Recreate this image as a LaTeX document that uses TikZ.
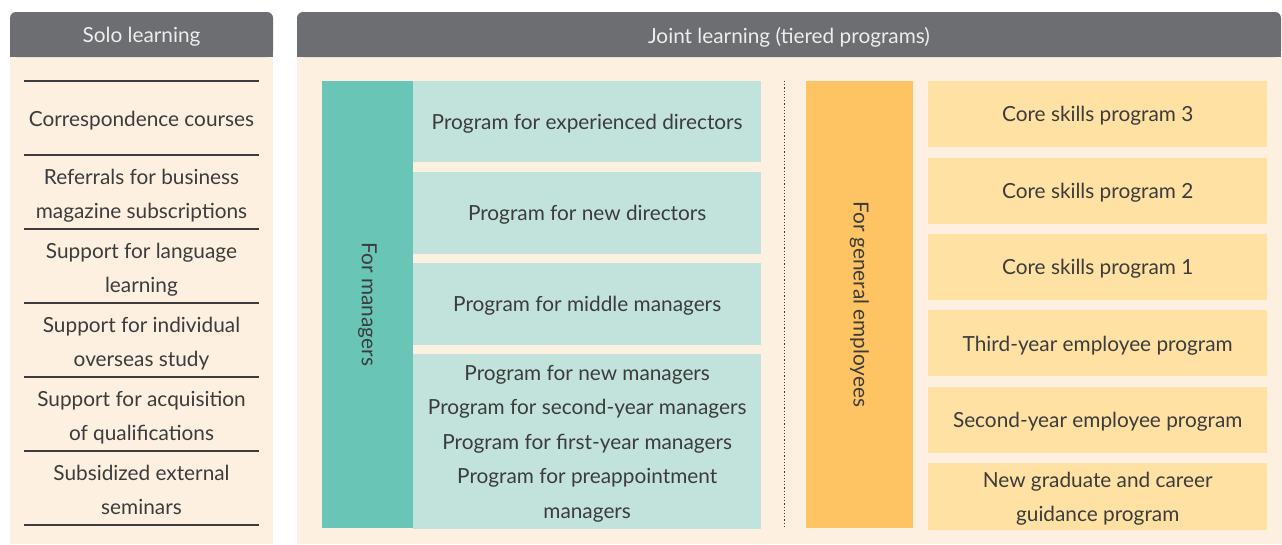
\documentclass[tikz,border=0pt]{standalone}
\usepackage{fontspec}
\setmainfont{Lato}
\usetikzlibrary{positioning}
\definecolor{beige}{HTML}{FDF0E1}
\definecolor{hdgray}{HTML}{6D6E71}
\definecolor{txtgray}{HTML}{3C3C3C}
\definecolor{mgrdark}{HTML}{69C5B5}
\definecolor{mgrlight}{HTML}{C1E3DC}
\definecolor{empdark}{HTML}{FEC463}
\definecolor{emplight}{HTML}{FFE1A3}
\tikzset{
  hdtext/.style={text=white!93!black,text depth=0pt},
  rule/.style={draw=txtgray,line width=1.2pt},
  solotxt/.style={align=center,inner sep=0pt,text depth=0pt},
  mgrcol/.style={fill=mgrdark,rotate=-90,minimum width=447pt,minimum height=91pt,inner sep=0pt},
  empcol/.style={fill=empdark,rotate=-90,minimum width=447pt,minimum height=107pt,inner sep=0pt},
  mgrbox/.style={fill=mgrlight,minimum width=348pt,align=center,inner sep=0pt,text depth=0pt},
  empbox/.style={fill=emplight,minimum width=339pt,minimum height=66pt,align=center,inner sep=0pt,text depth=0pt}
}
\begin{document}
\begin{tikzpicture}[x=1pt,y=-1pt,font=\fontsize{20.8}{34.5}\selectfont,text=txtgray]
\useasboundingbox[fill=white] (0,0) rectangle (1282,544);
% solo learning
\fill[beige] (10,57) rectangle (273,544);
\fill[hdgray,rounded corners=6pt] (10,12) rectangle (273,57);
\fill[hdgray] (10,35) rectangle (273,57);
\node[hdtext] (solo) at (141.5,35) {Solo learning};
\foreach \y in {81,155,...,526}
  \draw[rule] (24,\y) -- (259,\y);
\node[solotxt] (s1) at (141.5,119) {Correspondence courses};
\node[solotxt] (s2) at (141.5,194) {Referrals for business\\magazine subscriptions};
\node[solotxt] (s3) at (141.5,268) {Support for language\\learning};
\node[solotxt] (s4) at (141.5,342) {Support for individual\\overseas study};
\node[solotxt] (s5) at (141.5,416) {Support for acquisition\\of qualifications};
\node[solotxt] (s6) at (141.5,490) {Subsidized external\\seminars};
% joint learning
\fill[beige] (297,57) rectangle (1282,544);
\fill[hdgray,rounded corners=6pt] (297,12) rectangle (1281,57);
\fill[hdgray] (297,35) rectangle (1281,57);
\node[hdtext] (joint) at (789,35) {Joint learning (tiered programs)};
% managers
\node[mgrcol] (mgr) at (367.5,304.5) {For managers};
\node[mgrbox,minimum height=81pt,anchor=north west] (md1) at (413,81) {Program for experienced directors};
\node[mgrbox,minimum height=82pt,below=9pt of md1] (md2) {Program for new directors};
\node[mgrbox,minimum height=82pt,below=9pt of md2] (md3) {Program for middle managers};
\node[mgrbox,minimum height=175pt,below=9pt of md3] (md4) {Program for new managers\\Program for second-year managers\\Program for first-year managers\\Program for preappointment\\managers};
\draw[txtgray,line width=0.8pt,dash pattern=on 1.2pt off 2pt] (784,81) -- (784,527);
% general employees
\node[empcol] (emp) at (859.5,304.5) {For general employees};
\node[empbox,anchor=north west] (e1) at (928,81) {Core skills program 3};
\node[empbox,below=10pt of e1] (e2) {Core skills program 2};
\node[empbox,below=10pt of e2] (e3) {Core skills program 1};
\node[empbox,below=10pt of e3] (e4) {Third-year employee program};
\node[empbox,below=10pt of e4] (e5) {Second-year employee program};
\node[empbox,below=10pt of e5,minimum height=67pt] (e6) {New graduate and career\\guidance program};
\end{tikzpicture}
\end{document}
